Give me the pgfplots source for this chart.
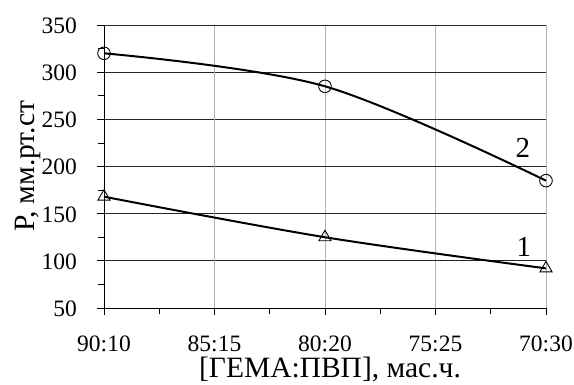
\documentclass[border=0pt]{standalone}
\usepackage{pgfplots}
\pgfplotsset{compat=1.18}
\usepackage{fontspec}
\setmainfont{Liberation Serif}
\begin{document}
\begin{tikzpicture}
\begin{axis}[
  scale only axis,
  width=442pt, height=283pt,
  xmin=0, xmax=4, ymin=50, ymax=350,
  xtick={0,2,3,4},
  xticklabels={90:10,80:20,75:25,70:30},
  extra x ticks={1},
  extra x tick labels={85:15},
  extra x tick style={grid style={black!85, line width=0.7pt}},
  ytick={50,100,...,300},
  extra y ticks={350},
  extra y tick style={grid style={gray!60, line width=0.8pt}},
  minor xtick={0.5,1.5,2.5,3.5},
  minor ytick={75,125,...,325},
  axis x line*=bottom, axis y line*=left,
  axis line style={black, line width=0.9pt, -},
  tick align=outside,
  major tick length=7pt, minor tick length=6pt,
  tick style={black, line width=0.8pt},
  ymajorgrids, xmajorgrids,
  y grid style={black!85, line width=0.7pt},
  x grid style={gray!60, line width=0.8pt},
  tick label style={font=\fontsize{23.5}{25}\selectfont},
  /pgf/number format/assume math mode=true,
  xticklabel style={anchor=base, inner sep=0pt, yshift=-37pt},
  yticklabel style={anchor=base east, inner sep=0pt, xshift=-20pt, yshift=-8.5pt},
  xlabel={[ГЕМА:ПВП], мас.ч.},
  ylabel={P, мм.рт.ст},
  every axis x label/.style={at={(axis description cs:0.5,0)}, anchor=base, inner sep=0pt, yshift=-70pt, xshift=5pt, font=\fontsize{29.5}{31}\selectfont},
  every axis y label/.style={at={(axis description cs:0,0.5)}, xshift=-69pt, rotate=90, anchor=base, inner sep=0pt, font=\fontsize{29.5}{31}\selectfont},
  clip=false,
]
\coordinate (o) at (rel axis cs:0,0);
\addplot[black, line width=2pt, smooth, tension=0.55, mark=o, mark size=6.3pt,
  mark options={fill=white, line width=0.9pt}]
  coordinates {(0,320) (2,285) (4,185)};
\addplot[black, line width=2pt, smooth, tension=0.55, mark=triangle, mark size=7pt,
  mark options={fill=white, line width=0.9pt}]
  coordinates {(0,168) (2,125) (4,92)};
\node[font=\fontsize{29}{31}\selectfont] at (axis cs:3.79,220) {2};
\node[font=\fontsize{29}{31}\selectfont] at (axis cs:3.8,115) {1};
\end{axis}
\pgfresetboundingbox
\path (o) ++(-104pt,-77pt) rectangle ++(574pt,385pt);
\end{tikzpicture}
\end{document}
